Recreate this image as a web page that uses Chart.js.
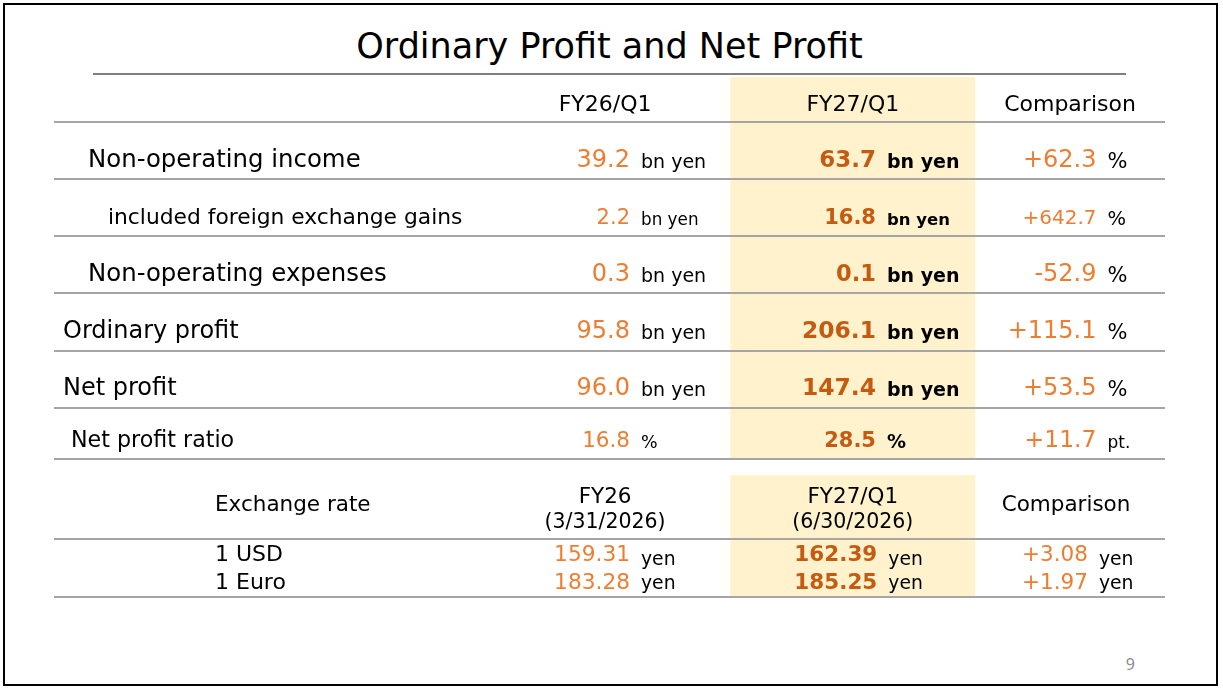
<!DOCTYPE html>
<html>
<head>
<meta charset="utf-8">
<script src="https://cdn.jsdelivr.net/npm/chart.js@4.4.1/dist/chart.umd.min.js"></script>
<style>
  body { margin: 0; background: #fff; }
  #slide { position: relative; width: 1223px; height: 691px; overflow: hidden; font-family: "DejaVu Sans", Verdana, sans-serif; }
  #frame { position: absolute; left: 3px; top: 3px; width: 1215px; height: 683px; border: 2px solid #000; box-sizing: border-box; }
  #title { position: absolute; left: 93px; width: 1033px; top: 26px; line-height: 40px; font-size: 35px; text-align: center; color: #000; }
  #rule { position: absolute; left: 93px; width: 1033px; top: 73px; height: 2px; background: #7f7f7f; }
  #page { position: absolute; left: 1100px; width: 35px; top: 653px; font: 16px "Noto Sans", sans-serif; color: #8c8c8c; text-align: right; }
  canvas { position: absolute; left: 50px; }
  #profitTable { top: 73px; }
  #rateTable { top: 471px; }
</style>
</head>
<body>
<div id="slide">
  <div id="frame"></div>
  <div id="title">Ordinary Profit and Net Profit</div>
  <div id="rule"></div>
  <canvas id="profitTable" width="1119" height="390"></canvas>
  <canvas id="rateTable" width="1119" height="130"></canvas>
  <div id="page">9</div>
</div>
<script>
// ---- data ----
const profitHeaders = ["FY26/Q1", "FY27/Q1", "Comparison"];
const profitRowLabels = [
  "Non-operating income",
  "included foreign exchange gains",
  "Non-operating expenses",
  "Ordinary profit",
  "Net profit",
  "Net profit ratio"
];
const profitFY26 = [39.2, 2.2, 0.3, 95.8, 96.0, 16.8];
const profitFY27 = [63.7, 16.8, 0.1, 206.1, 147.4, 28.5];
const profitChange = [62.3, 642.7, -52.9, 115.1, 53.5, 11.7];
const profitUnits = ["bn yen", "bn yen", "bn yen", "bn yen", "bn yen", "%"];
const profitChangeUnits = ["%", "%", "%", "%", "%", "pt."];

const rateHeaderLabel = "Exchange rate";
const rateHeaders = [["FY26", "(3/31/2026)"], ["FY27/Q1", "(6/30/2026)"], ["Comparison"]];
const rateRowLabels = ["1 USD", "1 Euro"];
const rateFY26 = [159.31, 183.28];
const rateFY27 = [162.39, 185.25];
const rateChange = [3.08, 1.97];
const rateUnit = "yen";

// ---- layout / style ----
const FONT = '"DejaVu Sans", Verdana, sans-serif';
const INK = "#000";
const LIGHT = "#ED7D31";
const DARK = "#C55A11";
const BAND = "#FFF2CC";
const RULE = "#a5a5a5";

// column edges in percent of the table width: label | FY26 | FY27 | Comparison
const colEdges = [0, 38.3, 60.9, 82.9, 100];
const profitSplit = [52.34, 74.48, 94.33];
const rateSplit = [52.34, 74.6, 93.56];

// row heights in row units (header first)
const profitHeaderWeight = 0.79;
const profitRowWeights = [1, 1, 1, 1, 1, 0.9];
const rateHeaderWeight = 2.2;
const rateRowWeights = [1, 1];

const profitRowStyle = [
  { indent: 34, label: 24.4, num: 24, bold: 23, unit: 19, boldUnit: 19, chg: 24, chgUnit: 21 },
  { indent: 54, label: 21.8, num: 21, bold: 21, unit: 16.8, boldUnit: 16.5, chg: 20, chgUnit: 19.5 },
  { indent: 34, label: 24.4, num: 24, bold: 22.6, unit: 19, boldUnit: 19, chg: 24, chgUnit: 21 },
  { indent: 9, label: 24, num: 24, bold: 23.4, unit: 19, boldUnit: 19, chg: 24, chgUnit: 21 },
  { indent: 9, label: 24, num: 24, bold: 23.4, unit: 19, boldUnit: 19, chg: 24, chgUnit: 21 },
  { indent: 17, label: 22.2, num: 21.5, bold: 21, unit: 17.5, boldUnit: 19, chg: 23.5, chgUnit: 17 }
];
const rateUnitShift = [4.5, 0.5];

function bounds(weights) {
  const out = [0];
  weights.forEach(w => out.push(out[out.length - 1] + w));
  return out;
}

function signed(v, digits) {
  return (v > 0 ? "+" : "") + v.toFixed(digits);
}

function put(ctx, text, px, py, size, color, align, bold) {
  ctx.font = (bold ? "bold " : "") + size + "px " + FONT;
  ctx.fillStyle = color;
  ctx.textAlign = align;
  ctx.textBaseline = "alphabetic";
  ctx.fillText(text, px, py);
}

function valueCell(ctx, x, split, py, num, numSize, numColor, numBold, unit, unitSize, unitBold, shift) {
  const sx = x.getPixelForValue(split);
  put(ctx, num, sx - 5.5, py, numSize, numColor, "right", numBold);
  put(ctx, unit, sx + 5.5, py + (shift || 0), unitSize, INK, "left", unitBold);
}

function colCenter(c) {
  return (colEdges[c] + colEdges[c + 1]) / 2;
}

const profitText = {
  id: "profitText",
  afterDraw(chart) {
    const ctx = chart.ctx, x = chart.scales.x, y = chart.scales.y;
    const yb = bounds(profitRowWeights);
    ctx.save();
    profitHeaders.forEach((h, c) => {
      put(ctx, h, x.getPixelForValue(colCenter(c + 1)), y.getPixelForValue(0) - 11.5, 22, INK, "center");
    });
    profitRowLabels.forEach((label, i) => {
      const st = profitRowStyle[i];
      const py = y.getPixelForValue(yb[i + 1]) - 12.5;
      put(ctx, label, x.getPixelForValue(0) + st.indent, py, st.label, INK, "left");
      valueCell(ctx, x, profitSplit[0], py, profitFY26[i].toFixed(1), st.num, LIGHT, false, profitUnits[i], st.unit, false, 1);
      valueCell(ctx, x, profitSplit[1], py, profitFY27[i].toFixed(1), st.bold, DARK, true, profitUnits[i], st.boldUnit, true, 1);
      valueCell(ctx, x, profitSplit[2], py, signed(profitChange[i], 1), st.chg, LIGHT, false, profitChangeUnits[i], st.chgUnit, false, 1);
    });
    ctx.restore();
  }
};

const rateText = {
  id: "rateText",
  afterDraw(chart) {
    const ctx = chart.ctx, x = chart.scales.x, y = chart.scales.y;
    const yb = bounds(rateRowWeights);
    const top = y.getPixelForValue(0);
    ctx.save();
    put(ctx, rateHeaderLabel, x.getPixelForValue(0) + 161, top - 28, 21.5, INK, "left");
    rateHeaders.forEach((lines, c) => {
      const cx = x.getPixelForValue(colCenter(c + 1)) - (c === 2 ? 4 : 0);
      if (lines.length === 2) {
        put(ctx, lines[0], cx, top - 36, 21.5, INK, "center");
        put(ctx, lines[1], cx, top - 11, 20.5, INK, "center");
      } else {
        put(ctx, lines[0], cx, top - 28, 21.5, INK, "center");
      }
    });
    rateRowLabels.forEach((label, i) => {
      const py = y.getPixelForValue(yb[i + 1]) - (i === 0 ? 7 : 8.5);
      put(ctx, label, x.getPixelForValue(0) + 161, py, 22, INK, "left");
      valueCell(ctx, x, rateSplit[0], py, rateFY26[i].toFixed(2), 21.7, LIGHT, false, rateUnit, 18.8, false, rateUnitShift[i]);
      valueCell(ctx, x, rateSplit[1], py, rateFY27[i].toFixed(2), 21.5, DARK, true, rateUnit, 18.8, false, rateUnitShift[i]);
      valueCell(ctx, x, rateSplit[2], py, signed(rateChange[i], 2), 21.5, LIGHT, false, rateUnit, 18.8, false, rateUnitShift[i]);
    });
    ctx.restore();
  }
};

function tableChart(id, headerWeight, rowWeights, textPlugin) {
  const rules = bounds(rowWeights);
  const total = rules[rules.length - 1];
  return new Chart(document.getElementById(id), {
    type: "bar",
    data: {
      labels: ["band"],
      datasets: [{
        data: [[colEdges[2], colEdges[3]]],
        backgroundColor: BAND,
        borderWidth: 0,
        barPercentage: 1,
        categoryPercentage: 1,
        xAxisID: "x",
        yAxisID: "band"
      }]
    },
    options: {
      indexAxis: "y",
      responsive: false,
      animation: false,
      events: [],
      layout: { padding: 4 },
      plugins: { legend: { display: false }, tooltip: { enabled: false }, title: { display: false } },
      scales: {
        x: { type: "linear", axis: "x", position: "bottom", min: 0, max: 100, offset: false, display: false },
        band: { type: "category", axis: "y", position: "left", labels: ["band"], offset: true, display: false },
        y: {
          type: "linear",
          axis: "y",
          position: "left",
          reverse: true,
          offset: false,
          min: -headerWeight,
          max: total,
          afterBuildTicks: scale => {
            scale.ticks = (rowWeights.length === 2 ? [0, total] : rules).map(v => ({ value: v }));
          },
          ticks: { display: false },
          border: { display: false },
          grid: { color: RULE, lineWidth: 2, drawTicks: false, offset: false, z: 1 }
        }
      }
    },
    plugins: [textPlugin]
  });
}

tableChart("profitTable", profitHeaderWeight, profitRowWeights, profitText);
tableChart("rateTable", rateHeaderWeight, rateRowWeights, rateText);
</script>
</body>
</html>
